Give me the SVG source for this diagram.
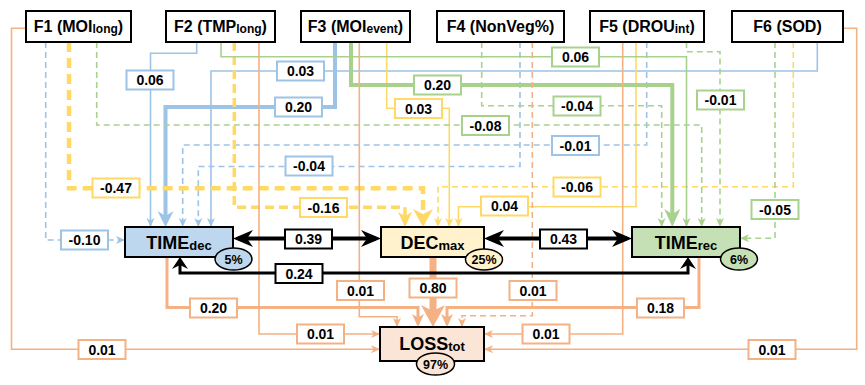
<svg xmlns="http://www.w3.org/2000/svg" width="865" height="385" viewBox="0 0 865 385">
<style>
.c{fill:none;stroke-linejoin:miter}
.b{stroke:#9DC3E6}.y{stroke:#FFD966}.g{stroke:#A9D18E}.o{stroke:#F4B183}.k{stroke:#000}
.t{stroke-width:1.6}
.d{stroke-dasharray:6,4}
.lb{fill:#fff;stroke-width:2}
.lt{font-family:"Liberation Sans",Arial,sans-serif;font-weight:bold;font-size:14px;text-anchor:middle;fill:#000}
.fb{fill:#fff;stroke:#000;stroke-width:2}
.ft{font-family:"Liberation Sans",Arial,sans-serif;font-weight:bold;font-size:16px;text-anchor:middle;fill:#000}
.nb{stroke:#000;stroke-width:2}
.nt{font-family:"Liberation Sans",Arial,sans-serif;font-weight:bold;font-size:18px;text-anchor:middle;fill:#000}
.pe{stroke:#000;stroke-width:1.5}
.pt{font-family:"Liberation Sans",Arial,sans-serif;font-weight:bold;font-size:12.5px;text-anchor:middle;fill:#000}
</style>
<defs>
<marker id="sb" markerUnits="userSpaceOnUse" markerWidth="12" markerHeight="10" refX="9" refY="4" orient="auto" overflow="visible"><path d="M0,0 L9,4 L0,8 L2.5,4 z" fill="#9DC3E6"/></marker>
<marker id="sy" markerUnits="userSpaceOnUse" markerWidth="12" markerHeight="10" refX="9" refY="4" orient="auto" overflow="visible"><path d="M0,0 L9,4 L0,8 L2.5,4 z" fill="#FFD966"/></marker>
<marker id="sg" markerUnits="userSpaceOnUse" markerWidth="12" markerHeight="10" refX="9" refY="4" orient="auto" overflow="visible"><path d="M0,0 L9,4 L0,8 L2.5,4 z" fill="#A9D18E"/></marker>
<marker id="so" markerUnits="userSpaceOnUse" markerWidth="12" markerHeight="10" refX="9" refY="4" orient="auto" overflow="visible"><path d="M0,0 L9,4 L0,8 L2.5,4 z" fill="#F4B183"/></marker>
<marker id="bb" markerUnits="userSpaceOnUse" markerWidth="20" markerHeight="20" refX="11" refY="8" orient="auto" overflow="visible"><path d="M0,0 L16,8 L0,16 L5,8 z" fill="#9DC3E6"/></marker>
<marker id="by" markerUnits="userSpaceOnUse" markerWidth="20" markerHeight="22" refX="13" refY="10" orient="auto" overflow="visible"><path d="M0,0 L18,10 L0,20 L5,10 z" fill="#FFD966"/></marker>
<marker id="my" markerUnits="userSpaceOnUse" markerWidth="18" markerHeight="16" refX="11" refY="7" orient="auto" overflow="visible"><path d="M0,0 L15,7 L0,14 L4,7 z" fill="#FFD966"/></marker>
<marker id="bg" markerUnits="userSpaceOnUse" markerWidth="20" markerHeight="18" refX="13" refY="8" orient="auto" overflow="visible"><path d="M0,0 L18,8 L0,16 L5,8 z" fill="#A9D18E"/></marker>
<marker id="mo" markerUnits="userSpaceOnUse" markerWidth="16" markerHeight="14" refX="10" refY="6" orient="auto" overflow="visible"><path d="M0,0 L13,6 L0,12 L3.5,6 z" fill="#F4B183"/></marker>
<marker id="bo" markerUnits="userSpaceOnUse" markerWidth="24" markerHeight="26" refX="14" refY="12" orient="auto" overflow="visible"><path d="M0,0 L22,12 L0,24 L6,12 z" fill="#F4B183"/></marker>
<marker id="bk" markerUnits="userSpaceOnUse" markerWidth="22" markerHeight="20" refX="15" refY="8.5" orient="auto-start-reverse" overflow="visible"><path d="M0,0 L20,8.5 L0,17 L6,8.5 z" fill="#000"/></marker>
<marker id="sk" markerUnits="userSpaceOnUse" markerWidth="14" markerHeight="18" refX="9" refY="8" orient="auto-start-reverse" overflow="visible"><path d="M0,0 L12,8 L0,16 L4,8 z" fill="#000"/></marker>
</defs>

<g id="connectors">
<!-- to TIMEdec (blue) -->
<path class="c b t d" d="M45.7,42 V240 H125" marker-end="url(#sb)"/>
<path class="c b t" d="M196.7,42 V53.3 H150.5 V227" marker-end="url(#sb)"/>
<path class="c b" stroke-width="4" d="M335,42 V107 H165.5 V222" marker-end="url(#bb)"/>
<path class="c b t" d="M817.3,42 V71 H211 V227" marker-end="url(#sb)"/>
<path class="c b t d" d="M646.7,42 V145 H182.7 V227" marker-end="url(#sb)"/>
<path class="c b t d" d="M520,42 V166.5 H198.3 V227" marker-end="url(#sb)"/>
<!-- to DECmax (yellow) -->
<path class="c y" stroke-width="4.5" stroke-dasharray="10,6" d="M69,42 V188.3 H423 V222" marker-end="url(#by)"/>
<path class="c y" stroke-width="3.5" stroke-dasharray="9,5" d="M234.3,42 V207.3 H405 V223" marker-end="url(#my)"/>
<path class="c y t" d="M386.7,42 V108.3 H449.3 V227" marker-end="url(#sy)"/>
<path class="c y t d" d="M793.3,42 V186.7 H438 V227" marker-end="url(#sy)"/>
<path class="c y t" d="M636,42 V206.7 H458.5 V227" marker-end="url(#sy)"/>
<!-- to TIMErec (green) -->
<path class="c g t d" d="M96.7,42 V125 H701.7 V227" marker-end="url(#sg)"/>
<path class="c g t" d="M221,42 V56.7 H686.5 V227" marker-end="url(#sg)"/>
<path class="c g" stroke-width="4" d="M351,42 V85 H672.3 V222" marker-end="url(#bg)"/>
<path class="c g t d" d="M481.7,42 V105.7 H661.7 V227" marker-end="url(#sg)"/>
<path class="c g t d" d="M686.5,42 V51.7 H720 V227" marker-end="url(#sg)"/>
<path class="c g t d" d="M775,42 V238.3 H740" marker-end="url(#sg)"/>
<!-- to LOSStot (orange) -->
<path class="c o t" d="M26,28.3 H11.5 V349.3 H380" marker-end="url(#so)"/>
<path class="c o t" d="M259,42 V334 H380" marker-end="url(#so)"/>
<path class="c o t" d="M359.3,42 V316.7 H397 V327" marker-end="url(#so)"/>
<path class="c o t d" d="M532.3,42 V315.7 H462 V327" marker-end="url(#so)"/>
<path class="c o t" d="M622.7,42 V334 H484" marker-end="url(#so)"/>
<path class="c o t" d="M843,28.3 H856.7 V349.3 H484" marker-end="url(#so)"/>
<path class="c o" stroke-width="3" d="M167,257 V307.5 H418 V324" marker-end="url(#mo)"/>
<path class="c o" stroke-width="3" d="M699,257 V307.5 H447 V324" marker-end="url(#mo)"/>
<path class="c o" stroke-width="7" d="M433,257 V319" marker-end="url(#bo)"/>
<!-- correlations (black) -->
<path class="c k" stroke-width="4" d="M238,238.5 H376" marker-start="url(#bk)" marker-end="url(#bk)"/>
<path class="c k" stroke-width="4" d="M489,238.5 H627" marker-start="url(#bk)" marker-end="url(#bk)"/>
<path class="c k" stroke-width="3" d="M180,260 V273 H688 V260" marker-start="url(#sk)" marker-end="url(#sk)"/>

<!-- labels -->
<g class="b"><rect class="lb" x="126.5" y="70.5" width="47" height="19"/></g><text class="lt" x="150" y="85">0.06</text>
<g class="b"><rect class="lb" x="277" y="61.5" width="47" height="19"/></g><text class="lt" x="300.5" y="76">0.03</text>
<g class="b"><rect class="lb" x="275" y="97.5" width="47" height="19"/></g><text class="lt" x="298.5" y="112">0.20</text>
<g class="b"><rect class="lb" x="285.5" y="156.5" width="47" height="19"/></g><text class="lt" x="309" y="171">-0.04</text>
<g class="b"><rect class="lb" x="552" y="136" width="47" height="19"/></g><text class="lt" x="575.5" y="150.5">-0.01</text>
<g class="b"><rect class="lb" x="61" y="230.5" width="47" height="19"/></g><text class="lt" x="84.5" y="245">-0.10</text>

<g class="y"><rect class="lb" x="92.5" y="178.5" width="47" height="19"/></g><text class="lt" x="116" y="193">-0.47</text>
<g class="y"><rect class="lb" x="300" y="198" width="47" height="19"/></g><text class="lt" x="323.5" y="212.5">-0.16</text>
<g class="y"><rect class="lb" x="395" y="99" width="47" height="19"/></g><text class="lt" x="418.5" y="113.5">0.03</text>
<g class="y"><rect class="lb" x="553.5" y="177.5" width="47" height="19"/></g><text class="lt" x="577" y="192">-0.06</text>
<g class="y"><rect class="lb" x="481" y="196.5" width="47" height="19"/></g><text class="lt" x="504.5" y="211">0.04</text>

<g class="g"><rect class="lb" x="552" y="47.5" width="47" height="19"/></g><text class="lt" x="575.5" y="62">0.06</text>
<g class="g"><rect class="lb" x="414" y="75.5" width="47" height="19"/></g><text class="lt" x="437.5" y="90">0.20</text>
<g class="g"><rect class="lb" x="553.5" y="96.5" width="47" height="19"/></g><text class="lt" x="577" y="111">-0.04</text>
<g class="g"><rect class="lb" x="462" y="116" width="47" height="19"/></g><text class="lt" x="485.5" y="130.5">-0.08</text>
<g class="g"><rect class="lb" x="697" y="90.5" width="47" height="19"/></g><text class="lt" x="720.5" y="105">-0.01</text>
<g class="g"><rect class="lb" x="751.5" y="200" width="47" height="19"/></g><text class="lt" x="775" y="214.5">-0.05</text>

<g class="k"><rect class="lb" x="285" y="229.5" width="47" height="19"/></g><text class="lt" x="308.5" y="244">0.39</text>
<g class="k"><rect class="lb" x="540" y="229.5" width="47" height="19"/></g><text class="lt" x="563.5" y="244">0.43</text>
<g class="k"><rect class="lb" x="275.5" y="264" width="47" height="19"/></g><text class="lt" x="299" y="278.5">0.24</text>

<g class="o"><rect class="lb" x="190" y="298.5" width="47" height="19"/></g><text class="lt" x="213.5" y="313">0.20</text>
<g class="o"><rect class="lb" x="637" y="298.5" width="47" height="19"/></g><text class="lt" x="660.5" y="313">0.18</text>
<g class="o"><rect class="lb" x="337" y="281" width="47" height="19"/></g><text class="lt" x="360.5" y="295.5">0.01</text>
<g class="o"><rect class="lb" x="409.5" y="278.5" width="47" height="19"/></g><text class="lt" x="433" y="293">0.80</text>
<g class="o"><rect class="lb" x="509.5" y="281" width="47" height="19"/></g><text class="lt" x="533" y="295.5">0.01</text>
<g class="o"><rect class="lb" x="297" y="324.5" width="47" height="19"/></g><text class="lt" x="320.5" y="339">0.01</text>
<g class="o"><rect class="lb" x="522.5" y="324.5" width="47" height="19"/></g><text class="lt" x="546" y="339">0.01</text>
<g class="o"><rect class="lb" x="78.5" y="340" width="47" height="19"/></g><text class="lt" x="102" y="354.5">0.01</text>
<g class="o"><rect class="lb" x="748.5" y="340" width="47" height="19"/></g><text class="lt" x="772" y="354.5">0.01</text>
</g>

<g id="F1"><rect class="fb" x="26" y="11" width="105" height="31"/><text class="ft" x="78.5" y="32">F1 (MOI<tspan font-size="12" dy="1">long</tspan><tspan dy="-1">)</tspan></text></g>
<g id="F2"><rect class="fb" x="166" y="11" width="109" height="31"/><text class="ft" x="220.5" y="32">F2 (TMP<tspan font-size="12" dy="1">long</tspan><tspan dy="-1">)</tspan></text></g>
<g id="F3"><rect class="fb" x="301" y="11" width="109" height="31"/><text class="ft" x="355.5" y="32">F3 (MOI<tspan font-size="12" dy="1">event</tspan><tspan dy="-1">)</tspan></text></g>
<g id="F4"><rect class="fb" x="437" y="11" width="127" height="31"/><text class="ft" x="500.5" y="32">F4 (NonVeg%)</text></g>
<g id="F5"><rect class="fb" x="590" y="11" width="114" height="31"/><text class="ft" x="647" y="32">F5 (DROU<tspan font-size="12" dy="1">int</tspan><tspan dy="-1">)</tspan></text></g>
<g id="F6"><rect class="fb" x="732" y="11" width="111" height="31"/><text class="ft" x="787.5" y="32">F6 (SOD)</text></g>

<g id="TIMEdec"><rect class="nb" fill="#BDD7EE" x="125" y="227" width="108" height="30"/><text class="nt" x="179" y="248.5">TIME<tspan font-size="13" dy="1">dec</tspan></text><ellipse class="pe" fill="#BDD7EE" cx="233.5" cy="259" rx="18.5" ry="11"/><text class="pt" x="233.5" y="263.5">5%</text></g>
<g id="DECmax"><rect class="nb" fill="#FFF2CC" x="381" y="227" width="103" height="30"/><text class="nt" x="432.5" y="248.5">DEC<tspan font-size="13" dy="1">max</tspan></text><ellipse class="pe" fill="#FFF2CC" cx="484" cy="259.5" rx="18.5" ry="10.5"/><text class="pt" x="484" y="264">25%</text></g>
<g id="TIMErec"><rect class="nb" fill="#C5E0B4" x="632" y="227" width="108" height="30"/><text class="nt" x="686" y="248.5">TIME<tspan font-size="13" dy="1">rec</tspan></text><ellipse class="pe" fill="#C5E0B4" cx="739" cy="259" rx="18.5" ry="11"/><text class="pt" x="739" y="263.5">6%</text></g>
<g id="LOSStot"><rect class="nb" fill="#FBE5D6" x="380" y="327" width="104" height="34"/><text class="nt" x="432" y="350">LOSS<tspan font-size="13" dy="1">tot</tspan></text><ellipse class="pe" fill="#FBE5D6" cx="435.5" cy="364" rx="19" ry="11"/><text class="pt" x="435.5" y="368.5">97%</text></g>
</svg>
